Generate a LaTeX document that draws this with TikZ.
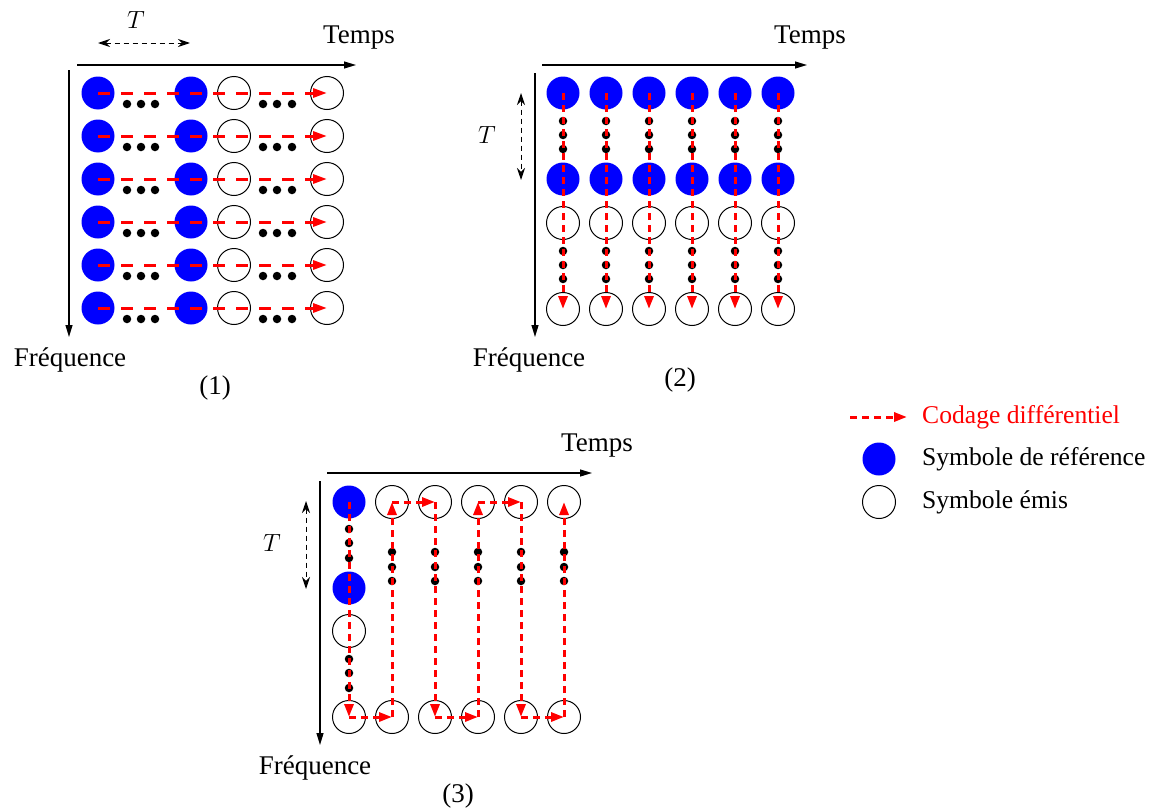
\documentclass[tikz,border=0pt]{standalone}
\usepackage{fontspec}
\setmainfont{Liberation Serif}
\usetikzlibrary{arrows.meta}
\definecolor{refblue}{RGB}{0,0,255}
\definecolor{codred}{RGB}{255,0,0}
\tikzset{
 refsym/.style={circle, fill=refblue, minimum size=33pt, inner sep=0pt},
 emis/.style={circle, draw=black, line width=1pt, minimum size=33pt, inner sep=0pt},
 blackdot/.style={circle, fill=black, minimum size=8.5pt, inner sep=0pt},
 axisline/.style={line width=1.2pt, -{Triangle[length=12pt,width=7pt]}},
 lbl/.style={font=\fontsize{27}{30}\selectfont, inner sep=0pt},
 leg/.style={font=\fontsize{25.6}{28}\selectfont, inner sep=0pt, anchor=base west},
 codA/.style={draw=codred, line width=3pt, dash pattern=on 12pt off 11pt, -{Triangle[length=14pt,width=9pt]}},
 codB/.style={draw=codred, line width=3pt, dash pattern=on 7pt off 5pt, -{Triangle[length=13pt,width=9pt]}},
 tarrow/.style={line width=1pt, dash pattern=on 5pt off 4pt, {Stealth[length=12pt,width=8pt]}-{Stealth[length=12pt,width=8pt]}},
}
\begin{document}
\begin{tikzpicture}[x=1pt,y=-1pt]
\useasboundingbox (0,0) rectangle (1157,811);

% ---------------- Panel 1 ----------------
\coordinate (h1s) at (77,65); \coordinate (h1e) at (356,65);
\coordinate (v1s) at (69,70); \coordinate (v1e) at (69,337);
\draw[axisline] (h1s) -- (h1e);
\draw[axisline] (v1s) -- (v1e);
\node[lbl, anchor=base] (temps1) at (359,43) {Temps};
\node[lbl, anchor=base] (freq1) at (70,366) {Fréquence};
\node[lbl] (cap1) at (215,388) {(1)};
\coordinate (t1a) at (98,43); \coordinate (t1b) at (190,43);
\draw[tarrow] (t1a) -- (t1b);
\node[lbl] (T1) at (136,20) {$T$};
\foreach \r in {0,...,5}{
 \pgfmathsetmacro\yy{93+43*\r}
 \node[refsym] (a\r-1) at (98,\yy) {};
 \node[refsym] (a\r-2) at (191,\yy) {};
 \node[emis] (a\r-3) at (234,\yy) {};
 \node[emis] (a\r-4) at (327,\yy) {};
 \foreach \dx [count=\k] in {127,141,155}{\node[blackdot] (a\r-d\k) at (\dx,\yy+11) {};}
 \foreach \dx [count=\k] in {263,277,292}{\node[blackdot] (a\r-e\k) at (\dx,\yy+11) {};}
 \draw[codA] (a\r-1.center) -- (a\r-4.center);
}

% ---------------- Panel 2 ----------------
\coordinate (h2s) at (542,65); \coordinate (h2e) at (807,65);
\coordinate (v2s) at (535,73); \coordinate (v2e) at (535,337);
\draw[axisline] (h2s) -- (h2e);
\draw[axisline] (v2s) -- (v2e);
\node[lbl, anchor=base] (temps2) at (810,43) {Temps};
\node[lbl, anchor=base] (freq2) at (529,366) {Fréquence};
\node[lbl] (cap2) at (680,380) {(2)};
\coordinate (t2a) at (521,93); \coordinate (t2b) at (521,180);
\draw[tarrow] (t2a) -- (t2b);
\node[lbl] (T2) at (487,135) {$T$};
\foreach \c in {0,...,5}{
 \pgfmathsetmacro\xx{563+43*\c}
 \node[refsym] (b\c-1) at (\xx,93) {};
 \node[refsym] (b\c-2) at (\xx,179) {};
 \node[emis] (b\c-3) at (\xx,223) {};
 \node[emis] (b\c-4) at (\xx,309) {};
 \foreach \dy [count=\k] in {121,135,149}{\node[blackdot] (b\c-d\k) at (\xx,\dy) {};}
 \foreach \dy [count=\k] in {251,265,279}{\node[blackdot] (b\c-e\k) at (\xx,\dy) {};}
 \draw[codB] (b\c-1.center) -- (b\c-4.center);
}

% ---------------- Panel 3 ----------------
\coordinate (h3s) at (327,473); \coordinate (h3e) at (592,473);
\coordinate (v3s) at (320,481); \coordinate (v3e) at (320,745);
\draw[axisline] (h3s) -- (h3e);
\draw[axisline] (v3s) -- (v3e);
\node[lbl, anchor=base] (temps3) at (597,451) {Temps};
\node[lbl, anchor=base] (freq3) at (315,774) {Fréquence};
\node[lbl] (cap3) at (458,796) {(3)};
\coordinate (t3a) at (306,501); \coordinate (t3b) at (306,589);
\draw[tarrow] (t3a) -- (t3b);
\node[lbl] (T3) at (272,543) {$T$};
% column 1
\node[refsym] (c1-top) at (349,502) {};
\node[refsym] (c1-ref) at (349,588) {};
\node[emis] (c1-mid) at (349,631) {};
\node[emis] (c1-bot) at (349,717) {};
\foreach \dy [count=\k] in {529,543,558}{\node[blackdot] (c1-d\k) at (349,\dy) {};}
\foreach \dy [count=\k] in {659,673,688}{\node[blackdot] (c1-e\k) at (349,\dy) {};}
% columns 2..6
\foreach \c in {2,...,6}{
 \pgfmathsetmacro\xx{349+43*(\c-1)}
 \node[emis] (c\c-top) at (\xx,502) {};
 \node[emis] (c\c-bot) at (\xx,717) {};
 \foreach \dy [count=\k] in {552,567,581}{\node[blackdot] (c\c-d\k) at (\xx,\dy) {};}
}
% differential coding path
\draw[codB] (c1-top.center) -- (c1-bot.center);
\draw[codB] (c1-bot.center) -- (c2-bot.center);
\draw[codB] (c2-bot.center) -- (c2-top.center);
\draw[codB] (c2-top.center) -- (c3-top.center);
\draw[codB] (c3-top.center) -- (c3-bot.center);
\draw[codB] (c3-bot.center) -- (c4-bot.center);
\draw[codB] (c4-bot.center) -- (c4-top.center);
\draw[codB] (c4-top.center) -- (c5-top.center);
\draw[codB] (c5-top.center) -- (c5-bot.center);
\draw[codB] (c5-bot.center) -- (c6-bot.center);
\draw[codB] (c6-bot.center) -- (c6-top.center);

% ---------------- Legend ----------------
\coordinate (lg1) at (850,417); \coordinate (lg2) at (907,417);
\draw[codB] (lg1) -- (lg2);
\node[leg, text=codred] (lgt1) at (922,423) {Codage différentiel};
\node[refsym] (lgs2) at (879,459) {};
\node[leg] (lgt2) at (922,465) {Symbole de référence};
\node[emis] (lgs3) at (879,502) {};
\node[leg] (lgt3) at (922,508) {Symbole émis};
\end{tikzpicture}
\end{document}
